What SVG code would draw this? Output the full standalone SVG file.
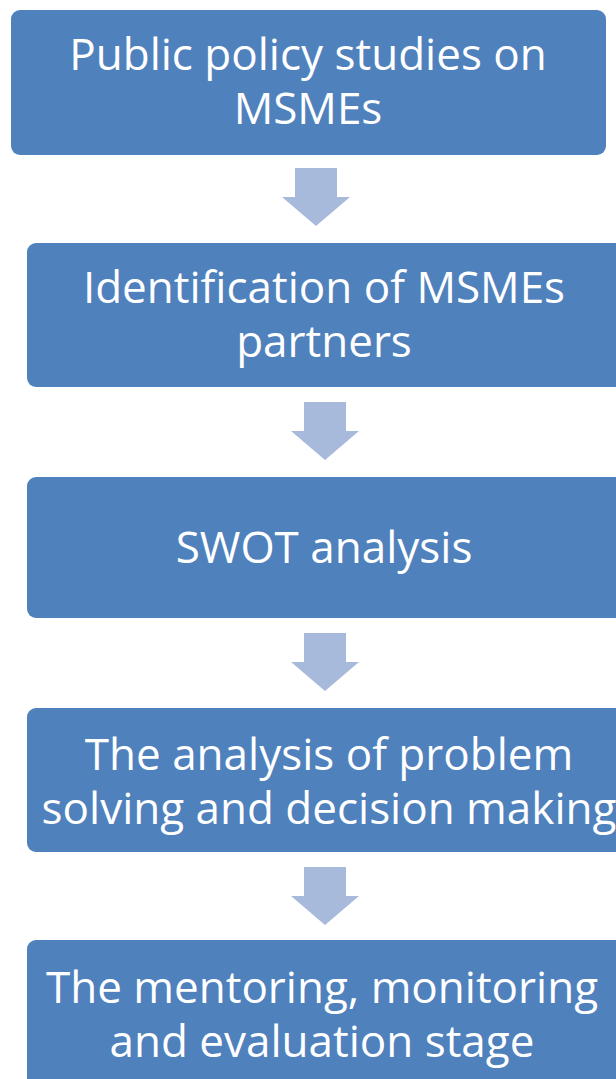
<svg xmlns="http://www.w3.org/2000/svg" width="616" height="1079" viewBox="0 0 616 1079">
  <style>
    .box { fill: #4f81bd; }
    .lbl { fill: #ffffff; font-family: "Open Sans", "Noto Sans", sans-serif; font-size: 44px; text-anchor: middle; }
    .arrow { fill: #a8badc; }
  </style>
  <defs>
    <path id="arr" d="M -21 0 L 21 0 L 21 29 L 34 29 L 0 58 L -34 29 L -21 29 Z"/>
  </defs>
  <rect x="0" y="0" width="616" height="1079" fill="#ffffff"/>
  <g id="connectors">
    <use href="#arr" class="arrow" x="316" y="168"/>
    <use href="#arr" class="arrow" x="325" y="402"/>
    <use href="#arr" class="arrow" x="325" y="633"/>
    <use href="#arr" class="arrow" x="325" y="867"/>
  </g>
  <g id="node1">
    <rect class="box" x="11" y="10" width="595" height="145" rx="9"/>
    <text class="lbl" x="308" y="70"><tspan x="308">Public policy studies on</tspan><tspan x="308" dy="54">MSMEs</tspan></text>
  </g>
  <g id="node2">
    <rect class="box" x="27" y="243" width="600" height="144" rx="9"/>
    <text class="lbl" x="324" y="303"><tspan x="324">Identification of MSMEs</tspan><tspan x="324" dy="54">partners</tspan></text>
  </g>
  <g id="node3">
    <rect class="box" x="27" y="477" width="600" height="141" rx="9"/>
    <text class="lbl" x="324" y="563">SWOT analysis</text>
  </g>
  <g id="node4">
    <rect class="box" x="27" y="708" width="600" height="144" rx="9"/>
    <text class="lbl" x="329" y="770"><tspan x="329">The analysis of problem</tspan><tspan x="329" dy="54">solving and decision making</tspan></text>
  </g>
  <g id="node5">
    <rect class="box" x="27" y="940" width="600" height="150" rx="9"/>
    <text class="lbl" x="322" y="1003"><tspan x="322">The mentoring, monitoring</tspan><tspan x="322" dy="54">and evaluation stage</tspan></text>
  </g>
</svg>
